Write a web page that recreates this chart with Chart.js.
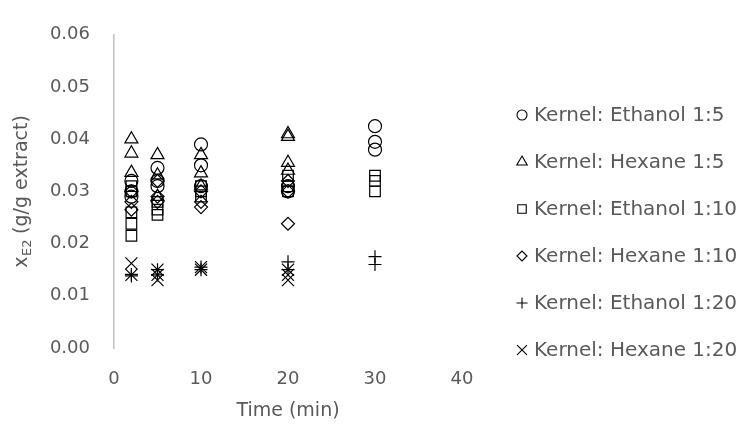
<!DOCTYPE html>
<html><head><meta charset="utf-8">
<script src="https://cdn.jsdelivr.net/npm/chart.js@4/dist/chart.umd.min.js"></script>
<style>html,body{margin:0;padding:0;background:#fff;overflow:hidden;}#wrap{width:747px;height:436px;position:relative;}</style>
</head><body><div id="wrap"><canvas id="c"></canvas></div>
<script>
const seriesNames = ["Kernel: Ethanol 1:5","Kernel: Hexane 1:5","Kernel: Ethanol 1:10","Kernel: Hexane 1:10","Kernel: Ethanol 1:20","Kernel: Hexane 1:20"];
const seriesStyles = ["circle","triangle","rect","rectRot","cross","crossRot"];

const ethanol15X = [2,2,2,5,5,5,10,10,10,20,20,30,30,30];
const ethanol15Y = [0.032,0.030,0.029,0.0345,0.032,0.031,0.039,0.035,0.031,0.031,0.030,0.0425,0.0395,0.038];

const hexane15X = [2,2,2,5,5,5,10,10,10,20,20,20,20];
const hexane15Y = [0.040,0.0373,0.0336,0.037,0.0331,0.029,0.037,0.0335,0.031,0.041,0.0405,0.0355,0.034];

const ethanol110X = [2,2,2,2,2,5,5,5,10,10,10,20,20,20,30,30,30];
const ethanol110Y = [0.031,0.030,0.026,0.0238,0.0215,0.028,0.0265,0.0255,0.031,0.030,0.029,0.033,0.031,0.030,0.033,0.032,0.030];

const hexane110X = [2,2,2,5,5,5,10,10,10,20,20,20];
const hexane110Y = [0.030,0.028,0.0265,0.032,0.029,0.028,0.030,0.028,0.027,0.032,0.030,0.0238];

const ethanol120X = [2,2,5,5,10,10,20,20,30,30];
const ethanol120Y = [0.0141,0.0138,0.015,0.014,0.0155,0.015,0.0165,0.015,0.0175,0.016];

const hexane120X = [2,2,5,5,5,10,10,20,20,20];
const hexane120Y = [0.0162,0.014,0.015,0.014,0.013,0.0155,0.015,0.015,0.014,0.013];

const xTicks = [0,10,20,30,40];
const yTicks = [0,0.01,0.02,0.03,0.04,0.05,0.06];

const xs = [ethanol15X,hexane15X,ethanol110X,hexane110X,ethanol120X,hexane120X];
const ys = [ethanol15Y,hexane15Y,ethanol110Y,hexane110Y,ethanol120Y,hexane120Y];

const FONT = "'DejaVu Sans', sans-serif";
const TXT = "#595959";
const pointSize = {circle:6.5, triangle:7.5, rect:7.5, rectRot:6.5, cross:6.5, crossRot:8.5};
const legendSize = {circle:5, triangle:6, rect:6, rectRot:5, cross:5.5, crossRot:7};

const datasets = seriesNames.map((n,i)=>({
  label:n,
  data: xs[i].map((x,j)=>({x:x,y:ys[i][j]})),
  pointStyle: seriesStyles[i],
  pointRadius: pointSize[seriesStyles[i]],
  borderColor:"#000",
  backgroundColor:"rgba(0,0,0,0)",
  pointBorderWidth:1.2,
  showLine:false
}));

const customPlugin = {
  id:'custom',
  afterDraw(chart){
    const ctx = chart.ctx;
    const ca = chart.chartArea;
    ctx.save();
    ctx.fillStyle = TXT;
    ctx.translate(22, (ca.top+ca.bottom)/2);
    ctx.rotate(-Math.PI/2);
    ctx.textBaseline = 'middle';
    const big = "19px " + FONT, small = "13px " + FONT;
    ctx.font = big; const w1 = ctx.measureText("x").width;
    ctx.font = small; const w2 = ctx.measureText("E2").width;
    ctx.font = big; const w3 = ctx.measureText(" (g/g extract)").width;
    let x0 = -(w1+w2+w3)/2;
    ctx.textAlign='left';
    ctx.font = big; ctx.fillText("x", x0, 0);
    ctx.font = small; ctx.fillText("E2", x0+w1+0.5, 6);
    ctx.font = big; ctx.fillText(" (g/g extract)", x0+w1+w2, 0);
    ctx.restore();

    ctx.save();
    const lx = 522, ly0 = 115, step = 47;
    chart.data.datasets.forEach((ds,i)=>{
      const y = ly0 + i*step;
      ctx.strokeStyle = "#000"; ctx.fillStyle="rgba(0,0,0,0)"; ctx.lineWidth = 1.1;
      Chart.helpers.drawPoint(ctx,{pointStyle:ds.pointStyle, radius:legendSize[ds.pointStyle], borderWidth:1.1}, lx, y);
      ctx.fillStyle = TXT; ctx.font = "20px " + FONT; ctx.textBaseline='middle'; ctx.textAlign='left';
      ctx.fillText(ds.label, lx+12, y+1);
    });
    ctx.restore();
  }
};

new Chart(document.getElementById('c'),{
  type:'scatter',
  data:{datasets},
  plugins:[customPlugin],
  options:{
    responsive:true, maintainAspectRatio:false, animation:false,
    layout:{padding:{left:0,right:285,top:25,bottom:0}},
    plugins:{legend:{display:false},tooltip:{enabled:false}},
    scales:{
      x:{type:'linear',min:0,max:40,
        afterBuildTicks(s){s.ticks = xTicks.map(v=>({value:v}));},
        afterFit(s){s.height = 88;},
        grid:{display:false,drawTicks:false},
        border:{display:false},
        ticks:{color:TXT,font:{family:FONT,size:18},padding:21,maxRotation:0},
        title:{display:true,text:"Time (min)",color:TXT,font:{family:FONT,size:19},padding:{top:0,bottom:14}}
      },
      y:{type:'linear',min:0,max:0.06,
        afterBuildTicks(s){s.ticks = yTicks.map(v=>({value:v}));},
        afterFit(s){s.width = 114;},
        grid:{display:false,drawTicks:false},
        border:{display:true,color:"#bfbfbf",width:1.5},
        ticks:{color:TXT,font:{family:FONT,size:18},padding:24,callback:v=>v.toFixed(2)}
      }
    }
  }
});
</script></body></html>
